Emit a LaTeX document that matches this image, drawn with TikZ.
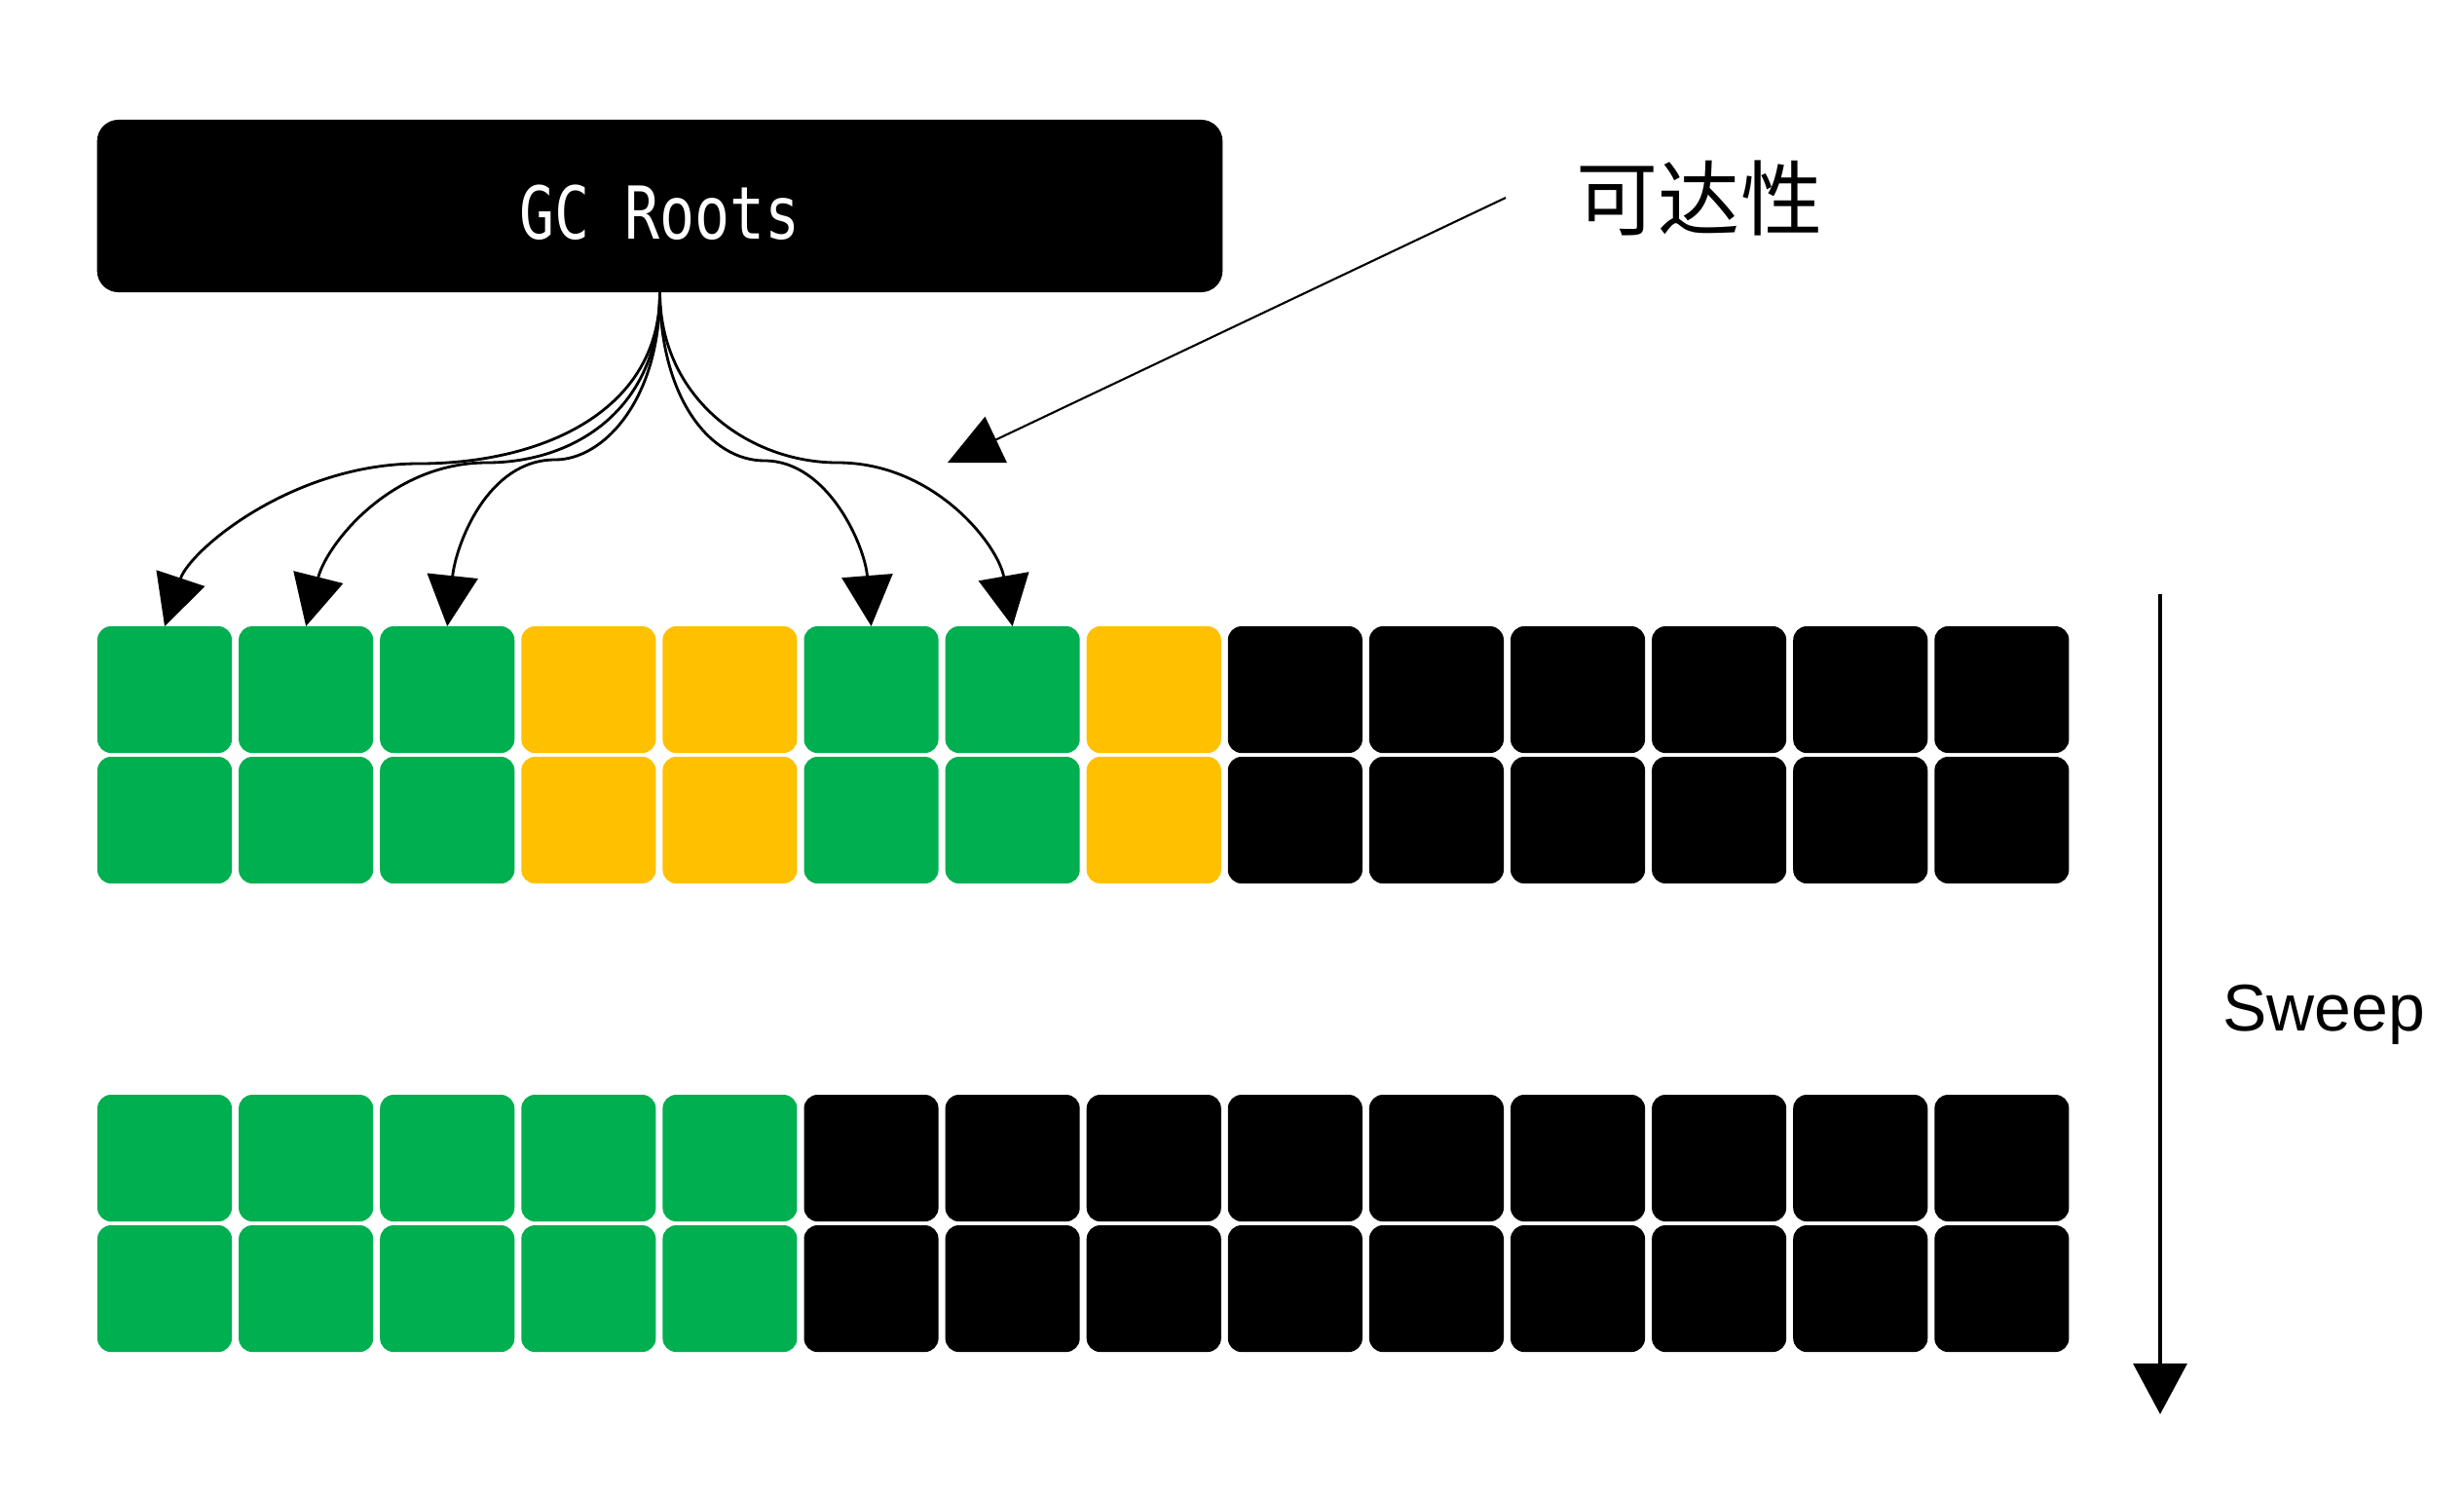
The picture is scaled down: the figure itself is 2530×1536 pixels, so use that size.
\documentclass[tikz,border=0pt]{standalone}
\usepackage{fontspec}
\usetikzlibrary{arrows.meta}
\newfontfamily\gcfont[FakeStretch=0.8]{DejaVu Sans Mono}
\newfontfamily\cjkfont{Noto Sans CJK SC}
\newfontfamily\swfont{Liberation Sans}
\definecolor{gcgreen}{HTML}{00AF50}
\definecolor{gcyellow}{HTML}{FFC000}
\begin{document}
\begin{tikzpicture}[x=0.01cm,y=-0.01cm,
  cell/.style={rounded corners=0.14cm, minimum width=1.38cm, minimum height=1.30cm, inner sep=0pt, outer sep=0pt, anchor=north west, draw=none},
  rootbox/.style={fill=black, rounded corners=0.22cm, minimum width=11.55cm, minimum height=1.77cm, inner sep=0pt, outer sep=0pt, text=white, text height=0.68cm, text depth=0pt, font=\gcfont\fontsize{21.3}{25}\selectfont},
  conn/.style={line width=0.8pt, -{Triangle[length=0.52cm,width=0.52cm]}},
  pointer/.style={line width=0.6pt, -{Triangle[length=0.55cm,width=0.52cm]}},
  sweeparrow/.style={line width=0.9pt, -{Triangle[length=0.52cm,width=0.55cm]}}]
\useasboundingbox (0,0) rectangle (2530,1536);
\fill[white] (0,0) rectangle (2530,1536);

% GC Roots
\node[rootbox] (gc) at (677.5,211.5) {GC Roots};

% upper heap
\foreach \col [count=\i from 0] in {gcgreen,gcgreen,gcgreen,gcyellow,gcyellow,gcgreen,gcgreen,gcyellow,black,black,black,black,black,black} {
  \node[cell, fill=\col] (u-0-\i) at ({100+\i*145.1},643) {};
  \node[cell, fill=\col] (u-1-\i) at ({100+\i*145.1},777) {};
}
% lower heap
\foreach \col [count=\i from 0] in {gcgreen,gcgreen,gcgreen,gcgreen,gcgreen,black,black,black,black,black,black,black,black,black} {
  \node[cell, fill=\col] (l-0-\i) at ({100+\i*145.1},1124) {};
  \node[cell, fill=\col] (l-1-\i) at ({100+\i*145.1},1258) {};
}

% reachability arrows
\draw[conn] (gc.south) .. controls (678,420) and (560,476) .. (430,476) .. controls (300,476) and (195,565) .. (u-0-0.north);
\draw[conn] (gc.south) .. controls (678,420) and (590,475) .. (500,475) .. controls (400,475) and (335,560) .. (u-0-1.north);
\draw[conn] (gc.south) .. controls (678,410) and (620,472) .. (570,472) .. controls (500,472) and (468,560) .. (u-0-2.north);
\draw[conn] (gc.south) .. controls (678,410) and (730,473) .. (785,473) .. controls (850,473) and (888,560) .. (u-0-5.north);
\draw[conn] (gc.south) .. controls (678,410) and (770,475) .. (860,475) .. controls (960,475) and (1025,560) .. (u-0-6.north);

% label
\node[font=\cjkfont\fontsize{23.9}{28}\selectfont, inner sep=0pt] (kd) at (1745,204) {可达性};
\coordinate (kdstart) at (1546,203);
\coordinate (kdtip) at (973,475);
\draw[pointer] (kdstart) -- (kdtip);

% sweep
\coordinate (swtop) at (2218,610);
\coordinate (swend) at (2218,1452);
\draw[sweeparrow] (swtop) -- (swend);
\node[font=\swfont\fontsize{19.3}{23}\selectfont, inner sep=0pt] (sweep) at (2386,1042) {Sweep};
\end{tikzpicture}
\end{document}
